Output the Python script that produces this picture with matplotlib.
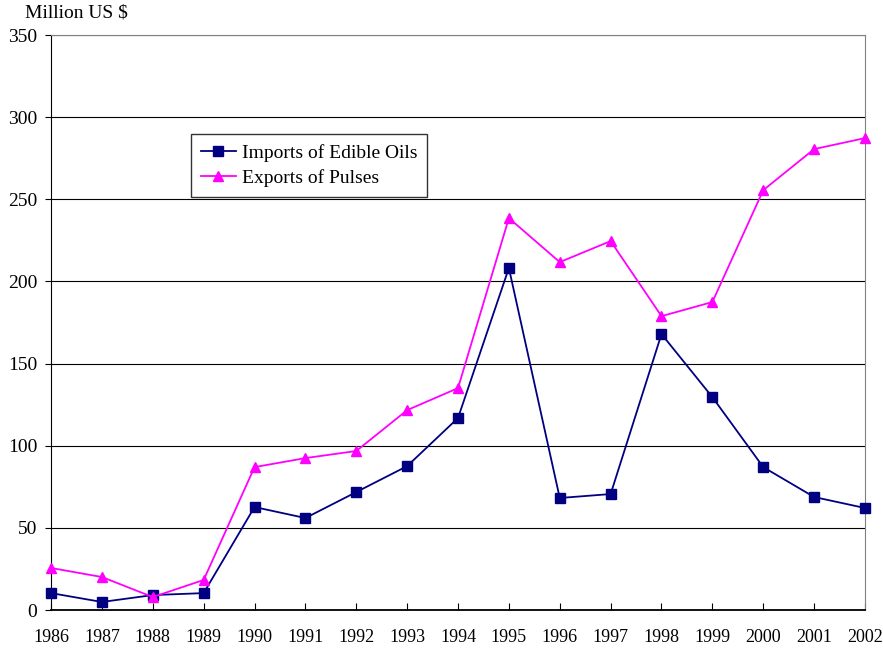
import numpy as np
import matplotlib.pyplot as plt

plt.rcParams['font.family'] = ['Liberation Serif', 'DejaVu Serif']

years = list(range(1986, 2003))
imports_oils = [10.3, 4.9, 9.1, 10.3, 62.7, 56.0, 71.8, 87.6, 116.9, 208.2,
                68.2, 70.6, 168.0, 129.6, 87.0, 68.8, 62.1]
exports_pulses = [25.6, 20.1, 7.9, 18.3, 87.0, 92.5, 96.8, 121.7, 135.1, 238.6,
                  211.8, 224.6, 178.9, 187.5, 255.6, 280.6, 287.3]

fig = plt.figure(figsize=(8.83, 6.5), dpi=100)
ax = fig.add_axes([0.0578, 0.0615, 0.9218, 0.8845])

ax.plot(years, imports_oils, color='#000080', marker='s', markersize=7,
        linewidth=1.3, label='Imports of Edible Oils', clip_on=False, zorder=3)
ax.plot(years, exports_pulses, color='#FF00FF', marker='^', markersize=7.5,
        linewidth=1.3, label='Exports of Pulses', clip_on=False, zorder=3)

ax.set_xlim(1986, 2002)
ax.set_ylim(0, 350)
ax.set_xticks(years)
ax.set_yticks(np.arange(0, 351, 50))
ax.yaxis.grid(True, color='black', linewidth=0.8)
ax.set_axisbelow(True)

ax.tick_params(axis='x', direction='in', length=5, pad=14, labelsize=13)
ax.tick_params(axis='y', direction='out', length=4, pad=6, labelsize=14)

ax.spines['left'].set_color('black')
ax.spines['bottom'].set_color('black')
ax.spines['bottom'].set_linewidth(1.3)
ax.spines['top'].set_color('#808080')
ax.spines['right'].set_color('#808080')

leg = ax.legend(loc='upper left', bbox_to_anchor=(0.172, 0.828), fontsize=14,
                frameon=True, fancybox=False, edgecolor='black',
                borderaxespad=0, borderpad=0.5, labelspacing=0.4,
                handlelength=1.8, handletextpad=0.3)
leg.get_frame().set_linewidth(1.0)

fig.text(0.028, 0.98, 'Million US \\$', fontsize=14, ha='left', va='center')

fig.savefig('out.png', dpi=100)
